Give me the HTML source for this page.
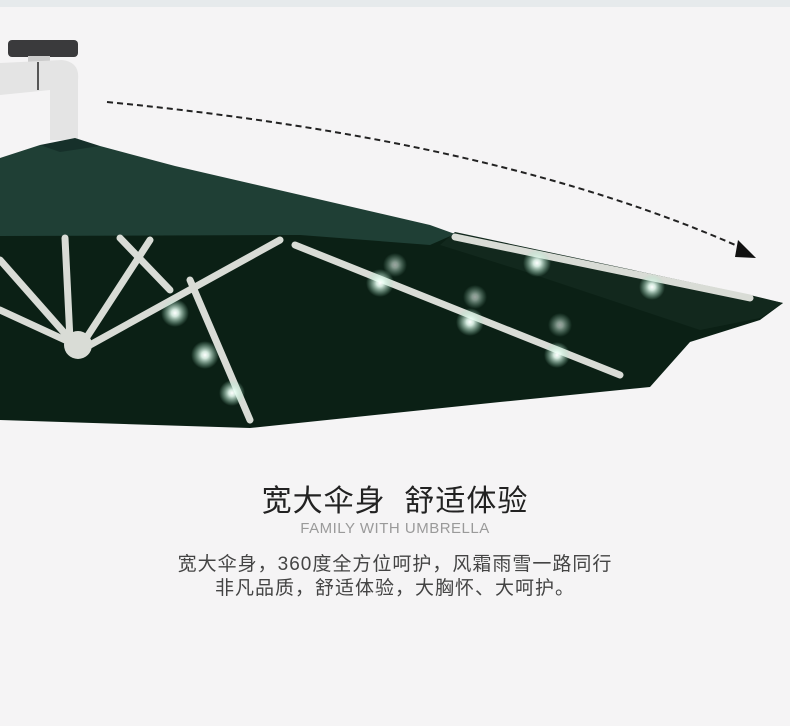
<!DOCTYPE html>
<html><head><meta charset="utf-8"><style>
html,body{margin:0;padding:0}
body{width:790px;height:726px;background:#f5f4f5;position:relative;overflow:hidden;font-family:"Liberation Sans","Noto Sans CJK SC",sans-serif}
.t{position:absolute;left:0;width:790px;text-align:center;white-space:nowrap}
</style></head><body>
<div style="position:absolute;left:0;top:0;width:790px;height:7px;background:#e6eaec"></div>
<svg width="790" height="460" style="position:absolute;left:0;top:0">
<defs>
<radialGradient id="g"><stop offset="0" stop-color="#fff"/><stop offset="0.25" stop-color="#eafff4" stop-opacity="0.9"/><stop offset="1" stop-color="#9fe0c0" stop-opacity="0"/></radialGradient>
</defs>
<rect x="8" y="40" width="70" height="17" rx="4" fill="#3a3a3c"/>
<rect x="28" y="56" width="22" height="12" fill="#ccc"/>
<path d="M0 63 L62 60 Q80 62 78 80 L78 140 L50 140 L50 90 L0 95 Z" fill="#e4e4e4"/>
<line x1="38" y1="62" x2="38" y2="90" stroke="#555" stroke-width="2"/>
<polygon points="0,232 440,232 460,237 750,296 783,303 760,320 690,342 650,387 500,402 250,428 0,420" fill="#0b2015"/>
<polygon points="455,232 750,295 783,303 760,318 700,330 520,270 440,245" fill="#12281d"/>
<polygon points="0,158 40,145 100,146 175,166 430,225 455,234 430,245 300,235 0,236" fill="#1f3f35"/>
<polygon points="40,145 75,138 100,146 60,152" fill="#16302a"/>
<g stroke="#d9dcd6" stroke-width="7" stroke-linecap="round" fill="none">
<line x1="75" y1="345" x2="0" y2="260"/>
<line x1="65" y1="340" x2="0" y2="310"/>
<line x1="70" y1="340" x2="65" y2="238"/>
<line x1="85" y1="340" x2="150" y2="240"/>
<line x1="90" y1="345" x2="280" y2="240"/>
<line x1="170" y1="290" x2="120" y2="238"/>
<line x1="190" y1="280" x2="250" y2="420"/>
<line x1="295" y1="245" x2="620" y2="375"/>
<line x1="455" y1="237" x2="750" y2="298"/>
</g>
<circle cx="78" cy="345" r="14" fill="#d9dcd6"/>
<g>
<circle cx="380" cy="283" r="14" fill="url(#g)"/>
<circle cx="537" cy="263" r="14" fill="url(#g)"/>
<circle cx="652" cy="287" r="13" fill="url(#g)"/>
<circle cx="470" cy="322" r="14" fill="url(#g)"/>
<circle cx="557" cy="355" r="13" fill="url(#g)"/>
<circle cx="175" cy="313" r="14" fill="url(#g)"/>
<circle cx="205" cy="355" r="14" fill="url(#g)"/>
<circle cx="232" cy="393" r="13" fill="url(#g)"/>
<circle cx="395" cy="265" r="12" fill="url(#g)" opacity="0.6"/>
<circle cx="475" cy="297" r="12" fill="url(#g)" opacity="0.6"/>
<circle cx="560" cy="325" r="12" fill="url(#g)" opacity="0.6"/>
</g>
<path d="M107 102 Q500 140 742 248" stroke="#222" stroke-width="2" stroke-dasharray="6,4" fill="none"/>
<polygon points="738,240 756,258 735,257" fill="#111"/>
</svg>
<div class="t" style="top:476px;font-size:30px;color:#222;letter-spacing:1px">宽大伞身&nbsp;&nbsp;舒适体验</div>
<div class="t" style="top:520px;font-size:15px;color:#9a9a9a;letter-spacing:0.5px">FAMILY WITH UMBRELLA</div>
<div class="t" style="top:549px;font-size:19px;color:#444;letter-spacing:1px">宽大伞身，360度全方位呵护，风霜雨雪一路同行</div>
<div class="t" style="top:573px;font-size:19px;color:#444;letter-spacing:1px">非凡品质，舒适体验，大胸怀、大呵护。</div>
</body></html>
